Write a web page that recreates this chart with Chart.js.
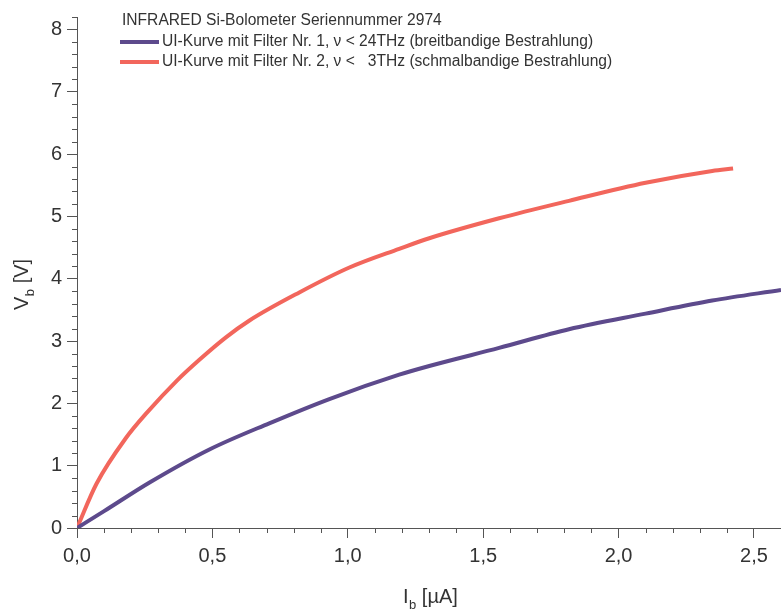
<!DOCTYPE html>
<html>
	<head>
		<meta charset="UTF-8">
		<title></title>
		<script src="https://cdn.jsdelivr.net/npm/chart.js@4.4.1/dist/chart.umd.min.js"></script>
		<style type="text/css">
			*{
				margin: 0;
				padding: 0;
			}
			body{
				background: white;
			}
		</style>
	</head>
	<body>
		<canvas id="uiChart" width="781" height="615"></canvas>

		<script type="text/javascript">
			// Filter 1 (breitbandig)
			var current1=[0, 0.1, 0.268, 0.489, 0.71, 0.932, 1.19, 1.301, 1.559, 1.817, 2.1, 2.346, 2.6];
			var voltage1=[0, 0.27, 0.73, 1.26, 1.68, 2.07, 2.46, 2.60, 2.89, 3.19, 3.44, 3.65, 3.82];
			// Filter 2 (schmalbandig)
			var current2=[0, 0.072, 0.18, 0.26, 0.37, 0.452, 0.55, 0.637, 0.821, 1.006, 1.19, 1.301, 1.559, 1.817, 2.1, 2.346, 2.423];
			var voltage2=[0, 0.71, 1.44, 1.86, 2.37, 2.70, 3.06, 3.33, 3.78, 4.18, 4.48, 4.65, 4.97, 5.25, 5.54, 5.73, 5.77];

			var xTicks=[0, 0.5, 1.0, 1.5, 2.0, 2.5];
			var yTicks=[0, 1, 2, 3, 4, 5, 6, 7, 8];
			var legendTitle="INFRARED Si-Bolometer Seriennummer 2974";
			var labels=["UI-Kurve mit Filter Nr. 1, \u03bd < 24THz (breitbandige Bestrahlung)",
				"UI-Kurve mit Filter Nr. 2, \u03bd <   3THz (schmalbandige Bestrahlung)"];
			var colors=["#5d4a8c", "#f2665c"];

			var textColor="#333333";
			var axisColor="#555555";
			var fontFamily="'Liberation Sans', Arial, sans-serif";

			function toPoints(xs, ys){
				return xs.map((x,i)=>({x:x, y:ys[i]}));
			}

			// kleine Zwischenstriche, Achsentitel mit Index, Legende
			var extras={
				id: "extras",
				afterDraw: function(chart){
					var ctx=chart.ctx;
					var xs=chart.scales.x;
					var ys=chart.scales.y;
					var area=chart.chartArea;
					ctx.save();
					ctx.strokeStyle=axisColor;
					ctx.lineWidth=1;
					ctx.beginPath();
					for(var i=1;i<=26;i++){
						if(i%5==0) continue;
						var px=Math.round(xs.getPixelForValue(i/10))+0.5;
						ctx.moveTo(px, area.bottom);
						ctx.lineTo(px, area.bottom+5);
					}
					for(var j=1;j<=41;j++){
						if(j%5==0) continue;
						var py=Math.round(ys.getPixelForValue(j/5))+0.5;
						ctx.moveTo(area.left-5, py);
						ctx.lineTo(area.left, py);
					}
					ctx.stroke();

					ctx.fillStyle=textColor;
					ctx.textBaseline="alphabetic";
					// x-Titel
					ctx.font="20px "+fontFamily;
					var x0=403;
					ctx.fillText("I", x0, 603);
					var wI=ctx.measureText("I").width;
					ctx.font="13px "+fontFamily;
					ctx.fillText("b", x0+wI+0.5, 609);
					var wb=ctx.measureText("b").width;
					ctx.font="20px "+fontFamily;
					ctx.fillText(" [\u00b5A]", x0+wI+wb+0.5, 603);
					// y-Titel
					ctx.translate(28, 310);
					ctx.rotate(-Math.PI/2);
					ctx.fillText("V", 0, 0);
					var wV=ctx.measureText("V").width;
					ctx.font="13px "+fontFamily;
					ctx.fillText("b", wV+0.5, 6);
					ctx.font="20px "+fontFamily;
					ctx.fillText(" [V]", wV+wb+0.5, 0);
					ctx.restore();

					// Legende
					ctx.save();
					ctx.font="15.6px "+fontFamily;
					ctx.fillStyle=textColor;
					ctx.textBaseline="middle";
					ctx.fillText(legendTitle, 122, 21);
					chart.data.datasets.forEach((ds,k)=>{
						var ly=42+k*20;
						ctx.strokeStyle=ds.borderColor;
						ctx.lineWidth=4;
						ctx.beginPath();
						ctx.moveTo(120, ly);
						ctx.lineTo(159, ly);
						ctx.stroke();
						ctx.fillText(ds.label, 162, ly);
					});
					ctx.restore();
				}
			};

			var ctx=document.getElementById("uiChart").getContext("2d");
			var chart=new Chart(ctx, {
				type: "scatter",
				data: {
					datasets: [
						{
							label: labels[0],
							data: toPoints(current1, voltage1),
							showLine: true,
							borderColor: colors[0],
							borderWidth: 4,
							pointRadius: 0,
							tension: 0.4,
							cubicInterpolationMode: "monotone"
						},
						{
							label: labels[1],
							data: toPoints(current2, voltage2),
							showLine: true,
							borderColor: colors[1],
							borderWidth: 4,
							pointRadius: 0,
							tension: 0.4,
							cubicInterpolationMode: "monotone"
						}
					]
				},
				options: {
					responsive: false,
					animation: false,
					layout: {padding: {left: 0, top: 8, right: 0, bottom: 0}},
					plugins: {
						legend: {display: false},
						tooltip: {enabled: false}
					},
					scales: {
						x: {
							type: "linear",
							min: 0,
							max: 2.6,
							afterBuildTicks: function(scale){
								scale.ticks=xTicks.map(v=>({value:v}));
							},
							afterFit: function(scale){
								scale.height=87;
							},
							border: {display: true, color: axisColor, width: 1},
							grid: {drawOnChartArea: false, drawTicks: true, tickLength: 10, color: axisColor},
							ticks: {
								color: textColor,
								padding: 6,
								maxRotation: 0,
								font: {family: fontFamily, size: 20},
								callback: function(v){
									return v.toFixed(1).replace(".", ",");
								}
							}
						},
						y: {
							type: "linear",
							min: 0,
							max: 8.2,
							afterBuildTicks: function(scale){
								scale.ticks=yTicks.map(v=>({value:v}));
							},
							afterFit: function(scale){
								scale.width=77;
							},
							border: {display: true, color: axisColor, width: 1},
							grid: {drawOnChartArea: false, drawTicks: true, tickLength: 10, color: axisColor},
							ticks: {
								color: textColor,
								padding: 5,
								font: {family: fontFamily, size: 20},
								callback: function(v){
									return String(v);
								}
							}
						}
					}
				},
				plugins: [extras]
			});
		</script>
	</body>
</html>
